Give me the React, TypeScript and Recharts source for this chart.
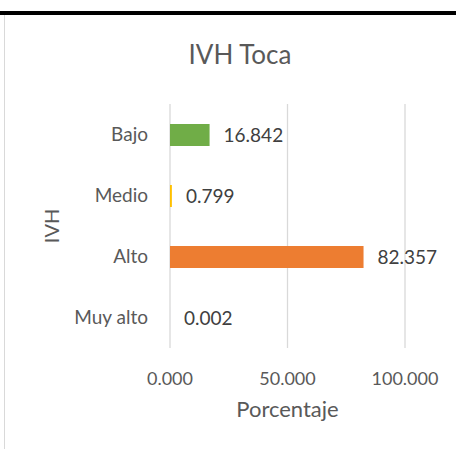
import React from 'react';
import { BarChart, Bar, XAxis, YAxis, CartesianGrid, Cell, LabelList, Label } from 'recharts';

const categories = ['Bajo', 'Medio', 'Alto', 'Muy alto'];
const porcentaje = [16.842, 0.799, 82.357, 0.002];
const barColors = ['#70AD47', '#FFC000', '#ED7D31', '#4472C4'];
const xTicks = [0, 50, 100];

const data = categories.map((nivel, i) => ({ nivel, porcentaje: porcentaje[i] }));

const FONT = 'Lato, "Open Sans", sans-serif';
const fmt = (v: number) => Number(v).toFixed(3);

const App: React.FC = () => {
  return (
    <div style={{ position: 'absolute', left: 0, top: 0, width: 456, height: 449, background: '#fff', fontFamily: FONT }}>
      {/* borde superior y lateral */}
      <div style={{ position: 'absolute', left: 0, top: 11, width: 456, height: 4, background: '#000' }} />
      <div style={{ position: 'absolute', left: 4, top: 15, width: 1, height: 434, background: '#d9d9d9' }} />
      <div
        style={{
          position: 'absolute',
          left: 140,
          top: 41,
          width: 200,
          textAlign: 'center',
          fontSize: 26,
          lineHeight: '26px',
          color: '#595959',
        }}
      >
        IVH Toca
      </div>
      <div style={{ position: 'absolute', left: 0, top: 0 }}>
        <BarChart
          width={456}
          height={449}
          data={data}
          layout="vertical"
          margin={{ top: 104, right: 51, bottom: 55, left: 10 }}
        >
          <CartesianGrid horizontal={false} stroke="#d9d9d9" strokeWidth={1.3} />
          <XAxis
            type="number"
            domain={[0, 100]}
            ticks={xTicks}
            tickFormatter={fmt}
            axisLine={false}
            tickLine={false}
            tickSize={6}
            tickMargin={18}
            height={46}
            tick={{ fontSize: 18, fill: '#595959', fontFamily: FONT }}
          >
            <Label
              content={({ viewBox }: any) => (
                <text
                  x={viewBox.x + viewBox.width / 2}
                  y={viewBox.y + 69}
                  textAnchor="middle"
                  fontSize={22}
                  fill="#595959"
                  fontFamily={FONT}
                >
                  Porcentaje
                </text>
              )}
            />
          </XAxis>
          <YAxis
            type="category"
            dataKey="nivel"
            width={160}
            axisLine={false}
            tickLine={false}
            tickSize={6}
            tickMargin={16}
            tick={{ fontSize: 19, fill: '#595959', fontFamily: FONT }}
          >
            <Label
              content={({ viewBox }: any) => {
                const cx = viewBox.x + 41;
                const cy = viewBox.y + viewBox.height / 2;
                return (
                  <text
                    x={cx}
                    y={cy}
                    transform={`rotate(-90 ${cx} ${cy})`}
                    textAnchor="middle"
                    dominantBaseline="central"
                    fontSize={20}
                    fill="#595959"
                    fontFamily={FONT}
                  >
                    IVH
                  </text>
                );
              }}
            />
          </YAxis>
          <Bar dataKey="porcentaje" barSize={22} isAnimationActive={false}>
            {data.map((d, i) => (
              <Cell key={d.nivel} fill={barColors[i]} />
            ))}
            <LabelList
              dataKey="porcentaje"
              position="right"
              offset={14}
              formatter={fmt}
              style={{ fontSize: 19, fill: '#404040', fontFamily: FONT }}
            />
          </Bar>
        </BarChart>
      </div>
    </div>
  );
};

export default App;
